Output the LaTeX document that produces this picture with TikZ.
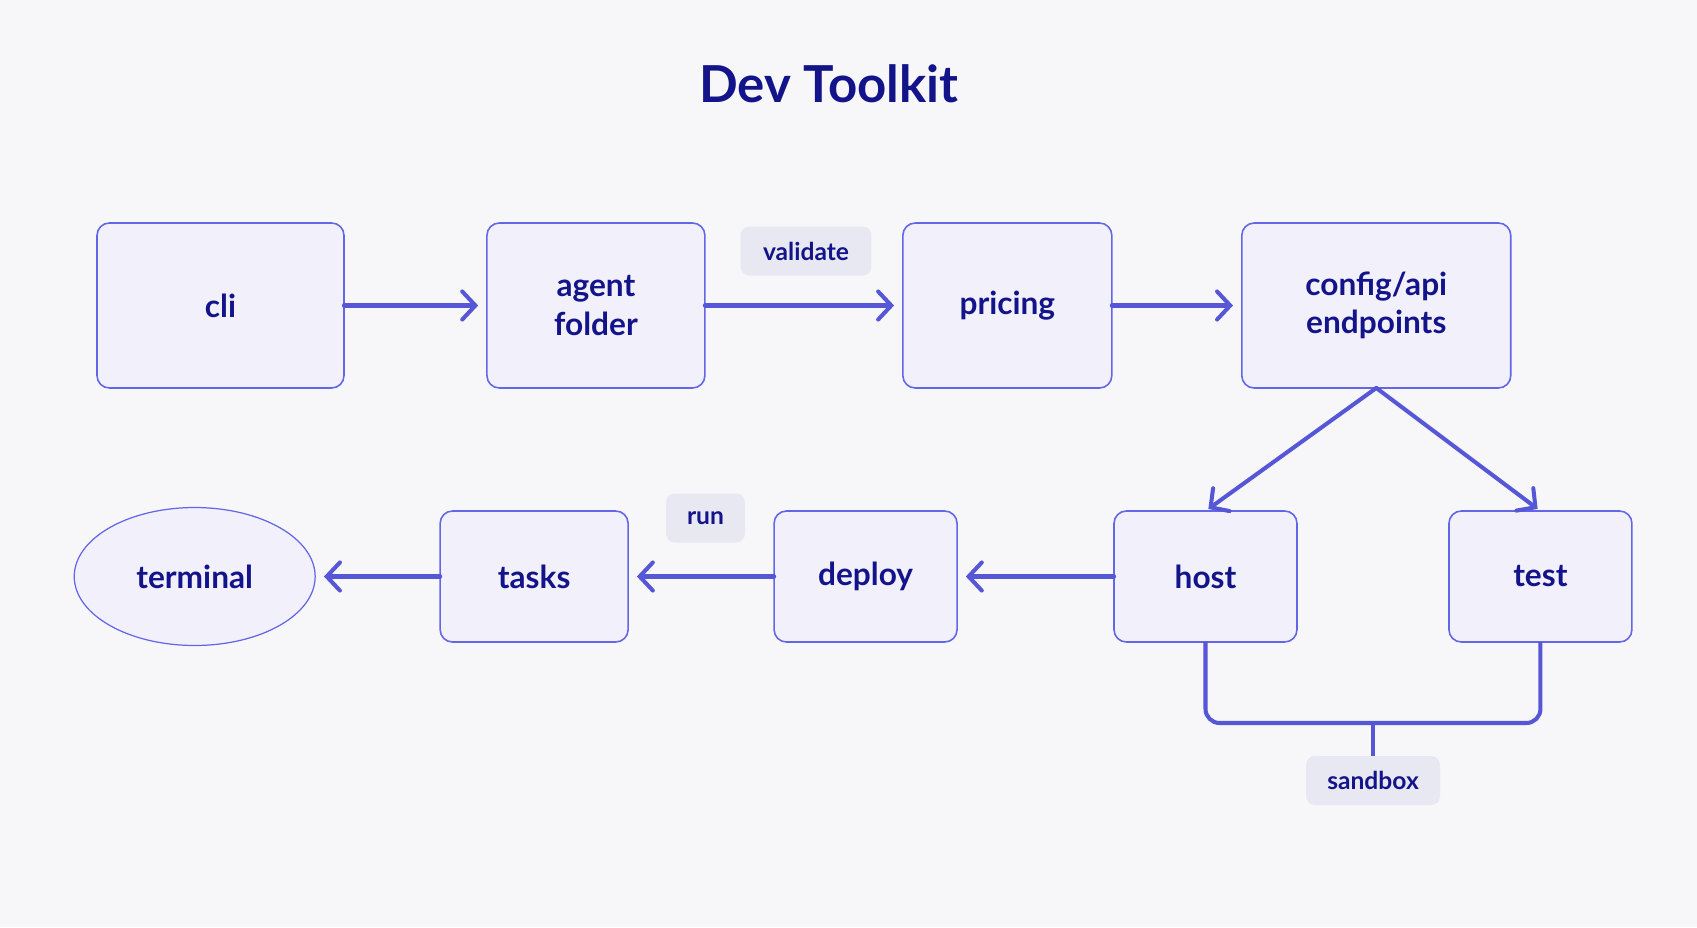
\documentclass[tikz,border=0pt]{standalone}
\usepackage{fontspec}
\setmainfont{Lato}
\usepackage{xcolor}
\usepackage{tikz}
\usetikzlibrary{arrows.meta,positioning,shapes.geometric}

\definecolor{pagebg}{HTML}{F7F7FA}
\definecolor{boxfill}{HTML}{F1F0FB}
\definecolor{boxline}{HTML}{6366E6}
\definecolor{linkcol}{HTML}{5557D6}
\definecolor{inkcol}{HTML}{14148A}
\definecolor{tagfill}{HTML}{E8E8F3}

\begin{document}
\begin{tikzpicture}[
  x=0.02cm, y=-0.02cm,
  box/.style={rectangle, rounded corners=7pt, draw=boxline, line width=0.9pt,
    fill=boxfill, minimum width=3.66cm, minimum height=3.3cm, outer sep=0pt,
    align=center, text=inkcol, font=\fontsize{18}{22}\selectfont\bfseries},
  lowbox/.style={box, minimum height=2.62cm},
  term/.style={ellipse, draw=boxline, line width=0.7pt, fill=boxfill,
    minimum width=4.82cm, minimum height=2.76cm, outer sep=0pt,
    text=inkcol, font=\fontsize{18}{22}\selectfont\bfseries},
  tag/.style={rectangle, rounded corners=5pt, fill=tagfill, inner sep=0pt,
    minimum height=0.98cm, text=inkcol, font=\fontsize{14}{16}\selectfont\bfseries},
  arr/.style={-{Straight Barb[length=7.5pt, width=16pt, line cap=round]},
    line width=2.3pt, draw=linkcol, line cap=round, shorten >=5pt},
  link/.style={line width=2.3pt, draw=linkcol, rounded corners=8pt}
]
  \fill[pagebg] (0,0) rectangle (1697,927);

  \node[text=inkcol, font=\fontsize{29}{34}\selectfont\bfseries] (title) at (829,84) {Dev Toolkit};

  % top row
  \node[box, minimum width=4.94cm] (cli) at (220.5,305.5) {cli};
  \node[box, minimum width=4.36cm, right=2.86cm of cli] (agent) {agent\\folder};
  \node[box, minimum width=4.18cm, right=3.96cm of agent] (pricing) {pricing};
  \node[box, minimum width=5.38cm, right=2.6cm of pricing] (config) {config/api\\endpoints};

  % bottom row
  \node[lowbox] (host) at (1205.5,576.5) {host};
  \node[lowbox, right=3.04cm of host] (test) {test};
  \node[lowbox, left=3.14cm of host] (deploy) {deploy};
  \node[lowbox, minimum width=3.76cm, left=2.92cm of deploy] (tasks) {tasks};
  \node[term, left=2.5cm of tasks] (terminal) {terminal};

  % edge labels
  \node[tag, minimum width=2.62cm] (validate) at (806,251) {validate};
  \node[tag, minimum width=1.58cm] (run) at (705.5,518) {run};
  \node[tag, minimum width=2.68cm] (sandbox) at (1373,780.5) {sandbox};
  \coordinate (join) at (sandbox.north |- 0,723);

  \draw[arr] (cli)     -- (agent);
  \draw[arr] (agent)   -- (pricing);
  \draw[arr] (pricing) -- (config);
  \draw[arr, shorten >=2pt] (config.south) -- (host.north);
  \draw[arr, shorten >=2pt] (config.south) -- (test.north);
  \draw[arr] (host)    -- (deploy);
  \draw[arr] (deploy)  -- (tasks);
  \draw[arr] (tasks)   -- (terminal);

  \draw[link] (host.south) |- (join) -| (test.south);
  \draw[link] (join) -- (sandbox.north);
\end{tikzpicture}
\end{document}
